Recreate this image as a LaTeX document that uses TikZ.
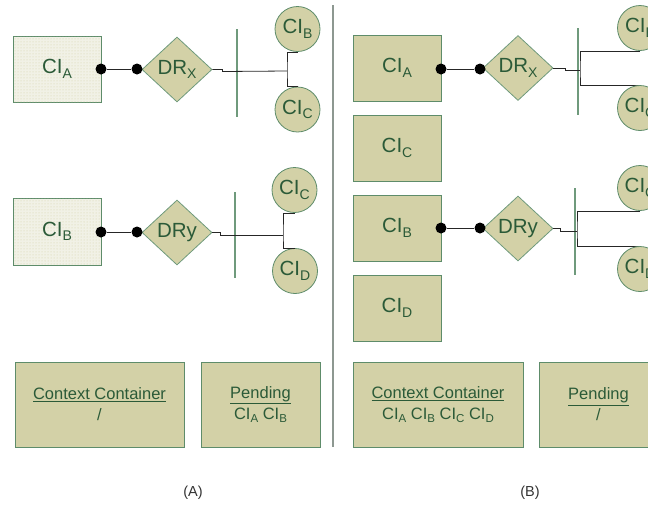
\documentclass[tikz,border=0pt]{standalone}
\usepackage{fontspec}
\setmainfont{Liberation Sans}
\usetikzlibrary{shapes.geometric,patterns,backgrounds}
\definecolor{olive}{HTML}{D3D1A7}
\definecolor{bord}{HTML}{5E8C6A}
\definecolor{txt}{HTML}{2B5A38}
\definecolor{barc}{HTML}{6F9A7C}
\definecolor{sepc}{HTML}{8D9891}
\definecolor{pale}{HTML}{F1F1E6}
\newcommand{\sbs}[1]{\raisebox{-4.5pt}{\fontsize{14}{14}\selectfont #1}}
\newcommand{\sbm}[1]{\raisebox{-3pt}{\fontsize{11.5}{12}\selectfont #1}}
\begin{document}
\begin{tikzpicture}[x=1pt,y=-1pt,
 mainf/.style={font=\fontsize{20.5}{24}\selectfont},
 box/.style={draw=bord, line width=1pt, fill=olive, minimum width=88pt, minimum height=66pt, inner sep=0pt, text=txt, mainf},
 stip/.style={box, fill=pale, postaction={pattern=dots, pattern color=olive}},
 dr/.style={diamond, draw=barc, line width=0.8pt, fill=olive, minimum width=70pt, minimum height=65pt, inner sep=0pt, text=txt, mainf},
 ci/.style={circle, draw=bord, line width=0.8pt, fill=olive, minimum size=45pt, inner sep=0pt, text=txt, mainf},
 dotn/.style={circle, fill=black, minimum size=11pt, inner sep=0pt},
 conn/.style={draw=black!85, line width=0.8pt},
 barl/.style={draw=barc, line width=1.2pt},
 big/.style={box, minimum height=85pt, font=\fontsize{16.5}{21}\selectfont, align=center},
 lab/.style={text=black!80, font=\fontsize{14.5}{16}\selectfont}]
\useasboundingbox (0,0) rectangle (648,504);
\clip (0,0) rectangle (648,504);

% separator
\draw[sepc, line width=2pt] (333,5) -- (333,447);

% ---------- (A) ----------
\node[stip] (aA) at (57,69) {CI\sbs{A}};
\node[stip, minimum height=67pt] (aB) at (57,231.5) {CI\sbs{B}};

\node[dr] (dA1) at (177,69.5) {DR\sbs{X}};
\node[dr] (dA2) at (177,232.5) {DRy};

\draw[barl] (237,29) -- (237,117);
\draw[barl] (235,192) -- (235,278);

\coordinate (a1j) at (287,71);
\coordinate (a2j) at (283,235);

\draw[conn] (dA1.east) -- ++(10,0) -- ++(0,2) -- (a1j);
\draw[conn] (dA2.east) -- ++(8,0) -- ++(0,2.5) -- (a2j);

\node[ci] (cB1) at (297.5,29) {CI\sbs{B}};
\node[ci] (cC1) at (297.5,109.5) {CI\sbs{C}};
\node[ci] (cC3) at (294.5,190) {CI\sbs{C}};
\node[ci] (cD3) at (295,271) {CI\sbs{D}};

\draw[conn] (cB1.south) -| (a1j) |- (cC1.north);
\draw[conn] (cC3.south) -| (a2j) |- (cD3.north);

\node[dotn] (p1) at (101,69) {};
\node[dotn] (p2) at (137,69) {};
\node[dotn] (p3) at (101,232) {};
\node[dotn] (p4) at (137,232) {};
\draw[conn] (p1) -- (p2);
\draw[conn] (p3) -- (p4);

\node[big, minimum width=169pt] (ccA) at (99.5,404.5) {\underline{Context Container}\\/};
\node[big, minimum width=119pt] (pA) at (260.5,404.5) {\underline{Pending}\\CI\sbm{A} CI\sbm{B}};
\node[lab] (labA) at (193,493) {(A)};

% ---------- (B) ----------
\node[box] (bA) at (397,68) {CI\sbs{A}};
\node[box] (bC) at (397,148) {CI\sbs{C}};
\node[box] (bB) at (397,228) {CI\sbs{B}};
\node[box] (bD) at (397,308) {CI\sbs{D}};

\node[dr] (dB1) at (518,68) {DR\sbs{X}};
\node[dr] (dB2) at (518,228.5) {DRy};

\draw[barl] (578,28) -- (578,115);
\draw[barl] (575,188) -- (575,275);

\coordinate (b1j) at (580,70);
\coordinate (b2j) at (577,231);

\draw[conn] (dB1.east) -- ++(12,0) -- ++(0,2) -- (b1j);
\draw[conn] (dB2.east) -- ++(7,0) -- ++(0,2.5) -- (b2j);

\node[ci] (cB2) at (640,28) {CI\sbs{B}};
\node[ci] (cC2) at (640,108) {CI\sbs{C}};
\node[ci] (cC4) at (640,188) {CI\sbs{C}};
\node[ci] (cD4) at (640,269) {CI\sbs{D}};

\begin{scope}[on background layer]
\draw[conn] (cB2.south) -| (b1j) |- (cC2.north);
\draw[conn] (cC4.south) -| (b2j) |- (cD4.north);
\end{scope}

\node[dotn] (q1) at (441,69) {};
\node[dotn] (q2) at (480,69) {};
\node[dotn] (q3) at (441,228) {};
\node[dotn] (q4) at (480,228) {};
\draw[conn] (q1) -- (q2);
\draw[conn] (q3) -- (q4);

\node[big, minimum width=170pt] (ccB) at (438,404.5) {\underline{Context Container}\\CI\sbm{A} CI\sbm{B} CI\sbm{C} CI\sbm{D}};
\node[big, minimum width=119pt] (pB) at (598.5,404.5) {\underline{Pending}\\/};
\node[lab] (labB) at (530,493) {(B)};
\end{tikzpicture}
\end{document}
